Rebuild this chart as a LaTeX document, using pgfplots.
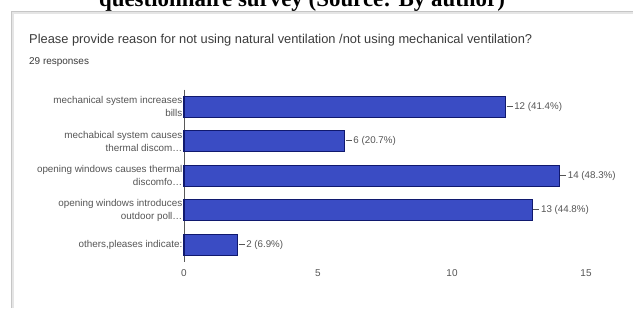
\documentclass[border=0pt]{standalone}
\usepackage{pgfplots}
\pgfplotsset{compat=1.18}
\usepackage{fontspec}
\setmainfont{Liberation Sans}
\newfontfamily\serifb{Liberation Serif}
\definecolor{barfill}{HTML}{3A4CC4}
\definecolor{bardraw}{HTML}{10196E}
\definecolor{txt}{HTML}{3C3C3C}
\definecolor{lbl}{HTML}{555555}
\begin{document}
\begin{tikzpicture}[x=1bp,y=1bp]
\useasboundingbox (0,0) rectangle (633,308);
\fill[white] (0,0) rectangle (633,308);
% card
\draw[gray!20,line width=2.5pt] (12.5,0) -- (12.5,295.5) -- (633,295.5);
\draw[gray!45,line width=0.6pt] (11.5,0) -- (11.5,296.5) -- (633,296.5);
% cropped caption
\node[anchor=base,font=\serifb\bfseries\fontsize{23}{26}\selectfont,inner sep=0] at (302,301.5) {questionnaire survey (Source: By author)};
\node[anchor=base west,inner sep=0,text=txt,font=\fontsize{12.9}{15}\selectfont] at (29,264.5) {Please provide reason for not using natural ventilation /not using mechanical ventilation?};
\node[anchor=base west,inner sep=0,text=txt,font=\fontsize{10}{12}\selectfont] at (29,244) {29 responses};
\begin{axis}[
  at={(184bp,46bp)}, anchor=south west,
  scale only axis, width=428.8bp, height=172.5bp,
  xmin=0, xmax=16, ymin=-0.5, ymax=4.5, y dir=reverse,
  axis lines*=left,
  x axis line style={draw=none},
  y axis line style={draw=gray!70!black, line width=0.6pt},
  xtick={0,5,10,15}, ytick={0,1,2,3,4},
  major tick length=0pt,
  xticklabel style={font=\fontsize{10}{12}\selectfont, text=lbl, yshift=-4bp},
  yticklabel style={font=\fontsize{9.9}{13}\selectfont, text=lbl, align=right, inner sep=1.5pt},
  yticklabels={{mechanical system increases\\bills},{mechabical system causes\\thermal discom\dots},{opening windows causes thermal\\discomfo\dots},{opening windows introduces\\outdoor poll\dots},{others,pleases indicate:}},
  xticklabels={0,5,10,15},
  /pgf/number format/assume math mode=true,
  clip=false,
]
\addplot[xbar, bar width=21bp, fill=barfill, draw=bardraw, line width=1.1pt,
  point meta=explicit symbolic,
  nodes near coords={\rule[0.55ex]{6bp}{0.5pt}\,\pgfplotspointmeta},
  nodes near coords align={horizontal},
  every node near coord/.append style={font=\fontsize{9.8}{11}\selectfont, text=lbl, inner sep=0.5pt, anchor=west},
] coordinates {
  (12,0) [12 (41.4\%)]
  (6,1) [6 (20.7\%)]
  (14,2) [14 (48.3\%)]
  (13,3) [13 (44.8\%)]
  (2,4) [2 (6.9\%)]
};
\end{axis}
\end{tikzpicture}
\end{document}
